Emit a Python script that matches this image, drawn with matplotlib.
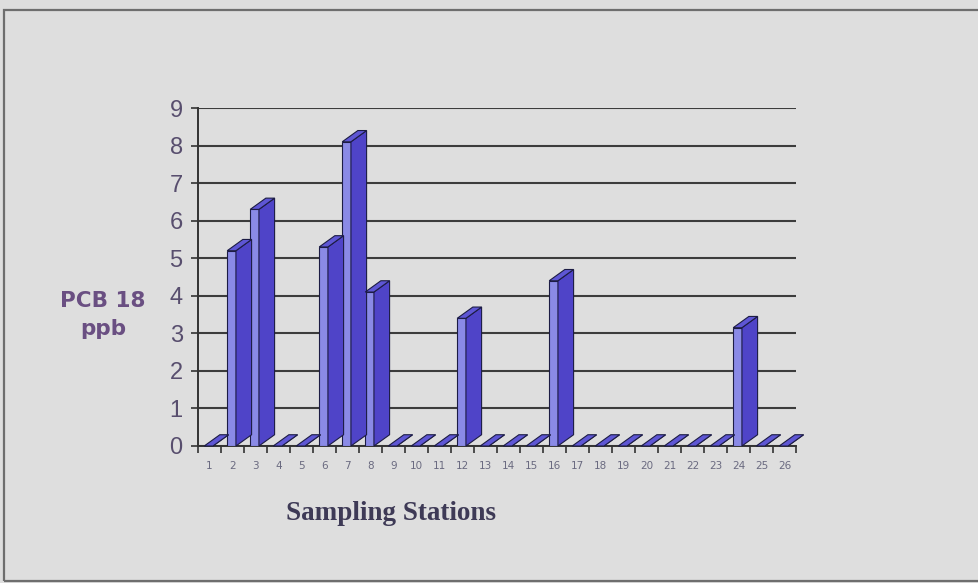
import numpy as np
import matplotlib
matplotlib.use("Agg")
import matplotlib.pyplot as plt
from matplotlib.patches import Polygon, Rectangle

# PCB 18 concentration per sampling station (ppb)
stations = [str(i) for i in range(1, 27)]
pcb18 = [0, 5.2, 6.3, 0, 0, 5.3, 8.1, 4.1, 0, 0, 0, 3.4, 0, 0, 0, 4.4,
         0, 0, 0, 0, 0, 0, 0, 3.15, 0, 0]
yticks = list(range(0, 10))

bg = "#dedede"
front_col = "#8a8ae6"
side_col = "#4f44c8"
top_col = "#5e56d4"
edge_col = "#1c1c44"
text_col = "#584e6e"

fig = plt.figure(figsize=(9.79, 5.83), dpi=100)
fig.patch.set_facecolor(bg)

# outer frame
fig.add_artist(Rectangle((4 / 979, 2 / 583), 1.2, 1 - 12 / 583, transform=fig.transFigure,
                         fill=False, edgecolor="#6e6e6e", linewidth=1.6))

ax = fig.add_axes([198 / 979, 1 - 446 / 583, (796 - 198) / 979, (446 - 108) / 583])
ax.set_facecolor(bg)
ax.set_xlim(0.5, len(stations) + 0.5)
ax.set_ylim(0, 9)

x = np.arange(1, len(stations) + 1)
w = 0.38          # width of the front face
off = -0.23       # front face offset from the category centre
dx, dy = 0.68, 0.3  # depth shift of the 3d look

ax.bar(x + off, pcb18, width=w, align="edge", color=front_col,
       edgecolor=edge_col, linewidth=0.8, zorder=3)
for xi, v in zip(x, pcb18):
    l = xi + off
    r = l + w
    side = Polygon([(r, 0), (r + dx, dy), (r + dx, v + dy), (r, v)], closed=True,
                   facecolor=side_col, edgecolor=edge_col, linewidth=0.8, zorder=3, clip_on=False)
    top = Polygon([(l, v), (r, v), (r + dx, v + dy), (l + dx, v + dy)], closed=True,
                  facecolor=top_col, edgecolor=edge_col, linewidth=0.8, zorder=4, clip_on=False)
    ax.add_patch(side)
    ax.add_patch(top)

ax.set_yticks(yticks)
ax.yaxis.grid(True, color="#3c3c3c", linewidth=1.5)
ax.set_axisbelow(True)
ax.tick_params(axis="y", direction="out", length=5, width=1.2, color="#333333",
               labelsize=17, labelcolor=text_col, pad=6)
for lab in ax.get_yticklabels():
    lab.set_fontfamily("Liberation Sans")

ax.set_xticks(x)
ax.set_xticklabels(stations)
ax.set_xticks(np.arange(0.5, len(stations) + 1), minor=True)
ax.tick_params(axis="x", which="major", length=0, labelsize=7.5, labelcolor="#6a6a80", pad=11)
ax.tick_params(axis="x", which="minor", direction="out", length=5, width=1.2, color="#333333")

for s in ["top", "right"]:
    ax.spines[s].set_visible(False)
ax.spines["left"].set_color("#333333")
ax.spines["bottom"].set_color("#333333")
ax.spines["left"].set_linewidth(1.4)
ax.spines["bottom"].set_linewidth(1.4)

fig.text(103 / 979, 1 - 315 / 583, "PCB 18\nppb", ha="center", va="center",
         fontsize=15.5, fontweight="semibold", color="#6a4f82", linespacing=1.55,
         family="DejaVu Sans")
fig.text(391 / 979, 1 - 514 / 583, "Sampling Stations", ha="center", va="center",
         fontsize=19.5, fontweight="bold", color="#3e3a56", family="Liberation Serif")

fig.savefig("out.png", dpi=100, facecolor=bg)
